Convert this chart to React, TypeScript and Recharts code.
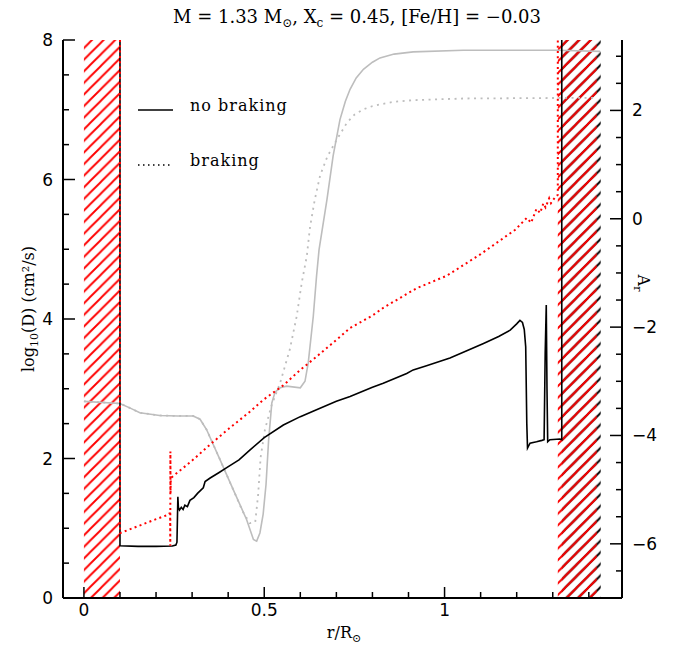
import React from 'react';
import { ComposedChart, Line, XAxis, YAxis, ReferenceArea, Legend } from 'recharts';

// ---------- data ----------
const noBrakeR = [0.1, 0.1, 0.15, 0.2, 0.245, 0.255, 0.258, 0.2605, 0.262, 0.265, 0.27, 0.275, 0.28, 0.287, 0.294, 0.305, 0.315, 0.325, 0.331, 0.336, 0.35, 0.375, 0.396, 0.43, 0.46, 0.5, 0.553, 0.6, 0.645, 0.7, 0.738, 0.8, 0.83, 0.895, 0.913, 0.95, 1.015, 1.06, 1.108, 1.15, 1.182, 1.2, 1.209, 1.216, 1.221, 1.225, 1.228, 1.23, 1.237, 1.255, 1.27, 1.276, 1.279, 1.282, 1.284, 1.286, 1.292, 1.32, 1.325, 1.325];
const noBrakeD = [8, 0.75, 0.74, 0.74, 0.745, 0.76, 0.8, 1.45, 1.3, 1.26, 1.3, 1.27, 1.33, 1.31, 1.4, 1.44, 1.5, 1.55, 1.58, 1.67, 1.72, 1.8, 1.87, 1.98, 2.12, 2.3, 2.48, 2.6, 2.7, 2.82, 2.89, 3.02, 3.08, 3.22, 3.27, 3.33, 3.44, 3.54, 3.65, 3.75, 3.84, 3.93, 3.98, 3.95, 3.85, 3.6, 2.5, 2.15, 2.22, 2.24, 2.26, 2.27, 3.5, 4.2, 3.0, 2.24, 2.27, 2.28, 2.27, 8];

const brakeR = [0.1, 0.1, 0.15, 0.2, 0.237, 0.239, 0.2395, 0.2398, 0.2402, 0.241, 0.248, 0.3, 0.35, 0.4, 0.46, 0.497, 0.553, 0.6, 0.645, 0.7, 0.738, 0.8, 0.83, 0.922, 1.006, 1.1, 1.196, 1.228, 1.24, 1.255, 1.265, 1.274, 1.28, 1.29, 1.295, 1.307, 1.314, 1.314];
const brakeD = [8, 0.93, 1.03, 1.13, 1.2, 1.25, 0.75, 2.1, 1.5, 1.72, 1.75, 1.97, 2.2, 2.42, 2.67, 2.84, 3.05, 3.27, 3.46, 3.7, 3.87, 4.05, 4.16, 4.44, 4.62, 4.93, 5.28, 5.45, 5.38, 5.58, 5.52, 5.66, 5.6, 5.73, 5.66, 5.75, 5.78, 8];

const noBrakeAR = [0, 0.1, 0.13, 0.155, 0.21, 0.26, 0.303, 0.322, 0.34, 0.377, 0.414, 0.451, 0.47, 0.479, 0.488, 0.497, 0.505, 0.512, 0.521, 0.53, 0.544, 0.562, 0.6, 0.613, 0.622, 0.636, 0.645, 0.652, 0.674, 0.691, 0.71, 0.725, 0.738, 0.755, 0.775, 0.8, 0.821, 0.86, 0.913, 1.052, 1.311, 1.431];
const noBrakeA = [-3.37, -3.41, -3.5, -3.58, -3.63, -3.64, -3.64, -3.7, -3.89, -4.44, -5.0, -5.55, -5.92, -5.95, -5.8, -5.45, -4.9, -4.1, -3.4, -3.2, -3.12, -3.09, -3.12, -3.0, -2.66, -1.8, -1.06, -0.57, 0.36, 1.16, 1.83, 2.17, 2.39, 2.6, 2.76, 2.89, 2.97, 3.04, 3.08, 3.11, 3.11, 3.09];

const brakeAR = [0, 0.1, 0.13, 0.155, 0.21, 0.26, 0.303, 0.322, 0.34, 0.377, 0.414, 0.44, 0.46, 0.475, 0.483, 0.49, 0.502, 0.52, 0.544, 0.571, 0.59, 0.604, 0.618, 0.627, 0.64, 0.655, 0.675, 0.701, 0.729, 0.75, 0.775, 0.8, 0.821, 0.86, 0.913, 1.052, 1.311, 1.422];
const brakeA = [-3.37, -3.41, -3.5, -3.58, -3.63, -3.64, -3.64, -3.7, -3.89, -4.44, -5.0, -5.4, -5.62, -5.6, -5.1, -4.4, -3.89, -3.45, -3.03, -2.41, -1.8, -1.18, -0.69, -0.15, 0.35, 0.8, 1.15, 1.46, 1.77, 1.92, 2.02, 2.08, 2.11, 2.16, 2.19, 2.22, 2.23, 2.23];

const xTicks = [0, 0.1, 0.2, 0.3, 0.4, 0.5, 0.6, 0.7, 0.8, 0.9, 1, 1.1, 1.2, 1.3, 1.4];
const xLabels: Record<string, string> = { '0': '0', '0.5': '0.5', '1': '1' };
const leftTicks = [0, 0.5, 1, 1.5, 2, 2.5, 3, 3.5, 4, 4.5, 5, 5.5, 6, 6.5, 7, 7.5, 8];
const leftLabels: Record<string, string> = { '0': '0', '2': '2', '4': '4', '6': '6', '8': '8' };
const rightTicks = [-6.5, -6, -5.5, -5, -4.5, -4, -3.5, -3, -2.5, -2, -1.5, -1, -0.5, 0, 0.5, 1, 1.5, 2, 2.5, 3];
const rightLabels: Record<string, string> = { '-6': '\u22126', '-4': '\u22124', '-2': '\u22122', '0': '0', '2': '2' };

const coreEdge = [0, 0.1];
const envBrake = [1.314, 1.422];
const envNoBrake = [1.325, 1.433];

const mk = (r: number[], v: number[]) => r.map((x, i) => ({ r: x, v: v[i] }));
const dNo = mk(noBrakeR, noBrakeD);
const dBr = mk(brakeR, brakeD);
const aNo = mk(noBrakeAR, noBrakeA);
const aBr = mk(brakeAR, brakeA);

const W = 658;
const H = 636;
const HO = 644;
const tickFont = '"DejaVu Sans", sans-serif';
const labelFont = '"DejaVu Serif", serif';

const BottomTick = (p: any) => {
  const { x, y, payload } = p;
  const lab = xLabels[String(payload.value)];
  return (
    <g>
      <line x1={x} y1={y} x2={x} y2={y - (lab !== undefined ? 11 : 6)} stroke="#000" strokeWidth={1.5} />
      {lab !== undefined && (
        <text x={x} y={y + 18} textAnchor="middle" fontFamily={tickFont} fontSize={17} fill="#000">{lab}</text>
      )}
    </g>
  );
};

const LeftTick = (p: any) => {
  const { x, y, payload } = p;
  const lab = leftLabels[String(payload.value)];
  return (
    <g>
      <line x1={x} y1={y} x2={x + (lab !== undefined ? 12 : 6)} y2={y} stroke="#000" strokeWidth={1.5} />
      {lab !== undefined && (
        <text x={x - 10} y={y + 6} textAnchor="end" fontFamily={tickFont} fontSize={17} fill="#000">{lab}</text>
      )}
    </g>
  );
};

const RightTick = (p: any) => {
  const { x, y, payload } = p;
  const lab = rightLabels[String(payload.value)];
  return (
    <g>
      <line x1={x} y1={y} x2={x - (lab !== undefined ? 12 : 6)} y2={y} stroke="#000" strokeWidth={1.5} />
      {lab !== undefined && (
        <text x={x + 10} y={y + 6} textAnchor="start" fontFamily={tickFont} fontSize={17} fill="#000">{lab}</text>
      )}
    </g>
  );
};

const LegendBox = () => (
  <svg width={200} height={90} style={{ display: 'block' }}>
    <line x1={8} y1={20} x2={43} y2={20} stroke="#000" strokeWidth={1.6} />
    <text x={60} y={21} fontFamily={labelFont} fontSize={16} letterSpacing={1} fill="#000">no braking</text>
    <line x1={8} y1={75} x2={43} y2={75} stroke="#000" strokeWidth={1.6} strokeDasharray="1.5 3.5" />
    <text x={60} y={76} fontFamily={labelFont} fontSize={16} letterSpacing={1} fill="#000">braking</text>
  </svg>
);

const P = 11.6;
const hatchPath = `M0,${P} L${P},0 M${-P / 2},${P / 2} L${P / 2},${-P / 2} M${P / 2},${1.5 * P} L${1.5 * P},${P / 2}`;

const subStyle: React.CSSProperties = { fontSize: 12, verticalAlign: -4, lineHeight: 0 };

export default function App() {
  return (
    <div style={{ position: 'relative', width: W, height: HO }}>
      <div
        style={{
          position: 'absolute', left: 99, top: 0, width: 500, textAlign: 'center',
          fontFamily: labelFont, fontSize: 18, lineHeight: '18px', color: '#000', whiteSpace: 'nowrap', zIndex: 2,
        }}
      >
        M = 1.33 M<span style={subStyle}>⊙</span>, X<span style={subStyle}>c</span> = 0.45, [Fe/H] = −0.03
      </div>
      <ComposedChart width={W} height={H} margin={{ top: 32, right: 0, bottom: 0, left: 0 }}>
        <defs>
          <pattern id="hatchRed" patternUnits="userSpaceOnUse" width={P} height={P}>
            <path d={hatchPath} stroke="#ff0000" strokeWidth={1.9} />
          </pattern>
          <pattern id="hatchBlack" patternUnits="userSpaceOnUse" width={P} height={P}>
            <path d={hatchPath} stroke="#000000" strokeWidth={1.9} />
          </pattern>
        </defs>
        <XAxis
          xAxisId="b"
          dataKey="r"
          type="number"
          domain={[-0.058, 1.492]}
          allowDataOverflow
          ticks={xTicks}
          interval={0}
          height={46}
          tickSize={0}
          tickMargin={0}
          tickLine={false}
          axisLine={{ stroke: '#000', strokeWidth: 2 }}
          tick={(p: any) => <BottomTick {...p} />}
        />
        <XAxis
          xAxisId="t"
          orientation="top"
          dataKey="r"
          type="number"
          domain={[-0.058, 1.492]}
          allowDataOverflow
          height={0}
          tick={false}
          tickLine={false}
          axisLine={{ stroke: '#000', strokeWidth: 2 }}
        />
        <YAxis
          yAxisId="left"
          type="number"
          domain={[0, 8]}
          allowDataOverflow
          ticks={leftTicks}
          interval={0}
          width={55}
          tickSize={0}
          tickMargin={0}
          tickLine={false}
          axisLine={{ stroke: '#000', strokeWidth: 2 }}
          tick={(p: any) => <LeftTick {...p} />}
        />
        <YAxis
          yAxisId="right"
          orientation="right"
          type="number"
          domain={[-7, 3.3]}
          allowDataOverflow
          ticks={rightTicks}
          interval={0}
          width={44}
          tickSize={0}
          tickMargin={0}
          tickLine={false}
          axisLine={{ stroke: '#000', strokeWidth: 2 }}
          tick={(p: any) => <RightTick {...p} />}
        />
        <ReferenceArea xAxisId="b" yAxisId="left" x1={coreEdge[0]} x2={coreEdge[1]} y1={0} y2={8} fill="url(#hatchRed)" fillOpacity={1} stroke="none" ifOverflow="hidden" />
        <ReferenceArea xAxisId="b" yAxisId="left" x1={envNoBrake[0]} x2={envNoBrake[1]} y1={0} y2={8} fill="url(#hatchBlack)" fillOpacity={1} stroke="none" ifOverflow="hidden" />
        <ReferenceArea xAxisId="b" yAxisId="left" x1={envBrake[0]} x2={envBrake[1]} y1={0} y2={8} fill="url(#hatchRed)" fillOpacity={1} stroke="none" ifOverflow="hidden" />

        <Line xAxisId="b" yAxisId="right" data={aNo} dataKey="v" type="linear" stroke="#bdbdbd" strokeWidth={1.6} dot={false} isAnimationActive={false} />
        <Line xAxisId="b" yAxisId="right" data={aBr} dataKey="v" type="linear" stroke="#bdbdbd" strokeWidth={1.8} strokeDasharray="2 4.5" dot={false} isAnimationActive={false} />
        <Line xAxisId="b" yAxisId="left" data={dNo} dataKey="v" type="linear" stroke="#000" strokeWidth={1.6} dot={false} isAnimationActive={false} />
        <Line xAxisId="b" yAxisId="left" data={dBr} dataKey="v" type="linear" stroke="#ff0000" strokeWidth={2} strokeDasharray="2 3.3" dot={false} isAnimationActive={false} />
        <Legend
          layout="vertical"
          align="center"
          verticalAlign="middle"
          content={() => <LegendBox />}
          wrapperStyle={{ position: 'absolute', left: 122, top: 82, width: 200, height: 90 }}
        />
      </ComposedChart>
      <svg width={W} height={HO} style={{ position: 'absolute', left: 0, top: 0, pointerEvents: 'none' }}>
        <g transform="translate(20,301) rotate(-90)">
          <text x={0} y={6} textAnchor="middle" fontFamily={labelFont} fontSize={16} fill="#000">
            log<tspan fontSize={11} dy={4}>10</tspan><tspan dy={-4}>(D) (cm²/s)</tspan>
          </text>
        </g>
        <text x={336} y={630} textAnchor="middle" fontFamily={labelFont} fontSize={16} fill="#000">
          r/R<tspan fontSize={11} dy={4}>⊙</tspan>
        </text>
        <g transform="translate(636,275) rotate(90)">
          <text x={0} y={6} textAnchor="middle" fontFamily={labelFont} fontSize={16} fill="#000">
            A<tspan fontSize={11} dy={4}>r</tspan>
          </text>
        </g>
      </svg>
    </div>
  );
}
